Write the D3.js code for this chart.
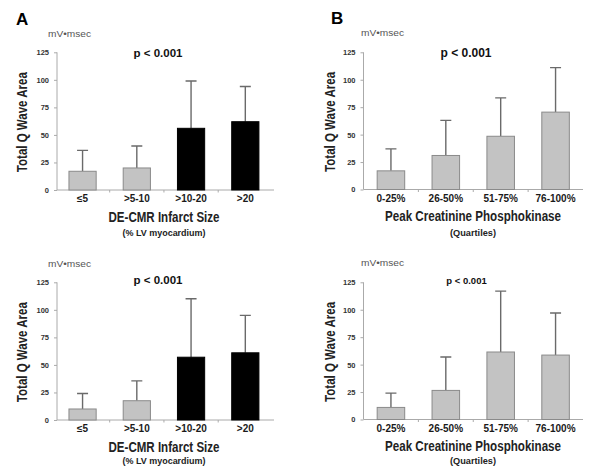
<!DOCTYPE html>
<html><head><meta charset="utf-8">
<script src="https://cdn.jsdelivr.net/npm/d3@7"></script>
<style>html,body{margin:0;padding:0;background:#fff}svg{display:block}text{font-family:"Liberation Sans",Arial,sans-serif}</style>
</head><body><svg id="c" width="600" height="473"></svg>
<script>
// ---- data ----
const infarctCats = ["≤5", ">5-10", ">10-20", ">20"];
const ckCats = ["0-25%", "26-50%", "51-75%", "76-100%"];
const yTicks = [0, 25, 50, 75, 100, 125];

const aTopMean  = [17, 20, 56, 62];
const aTopUpper = [36, 40, 99, 94];
const aBotMean  = [10, 17.5, 57, 61];
const aBotUpper = [24, 35.5, 110, 95];

const bTopMean  = [17, 31, 48.5, 70.5];
const bTopUpper = [37, 63, 83.5, 111];
const bBotMean  = [11, 26.5, 61.5, 58.7];
const bBotUpper = [24, 57, 117, 97];

const infarctGroup = ["low", "low", "high", "high"];
const ckGroup = ["low", "low", "low", "low"];

const svg = d3.select("#c");
const fillFor = {low: "#c3c3c3", high: "#000"};
const strokeFor = {low: "#8a8a8a", high: "#000"};

function panel(o) {
  const g = svg.append("g").attr("transform", `translate(${o.dx},${o.dy})`);
  const x = d3.scaleBand().domain(o.cats).range([o.x0, o.x1])
    .paddingInner(0.48).paddingOuter(0.24).align(o.align);
  const y = d3.scaleLinear().domain([0, 125]).range([o.y0, 52.3]);
  const data = o.cats.map((c, i) => ({c, m: o.mean[i], u: o.upper[i], grp: o.grp[i]}));

  // y axis
  const ya = g.append("g").attr("transform", `translate(${o.x0},0)`)
    .call(d3.axisLeft(y).tickValues(yTicks).tickSize(3).tickPadding(5).tickFormat(d3.format("d")));
  ya.select(".domain").attr("stroke", "#aaa").attr("d", `M0,${o.y0}V${y(125)}`);
  ya.selectAll(".tick line").attr("stroke", "#aaa");
  ya.selectAll(".tick text").attr("font-size", 7.5).attr("font-weight", "bold").attr("fill", "#333")
    .attr("font-family", "Liberation Sans, Arial, sans-serif");

  // x axis
  const xa = g.append("g").attr("transform", `translate(0,${o.y0})`)
    .call(d3.axisBottom(x).tickSize(0).tickPadding(5));
  xa.select(".domain").attr("stroke", "#aaa").attr("d", `M${o.x0},0H${o.x1}`);
  xa.selectAll(".tick text").attr("font-size", 10).attr("font-weight", "bold").attr("fill", "#1a1a1a")
    .attr("font-family", "Liberation Sans, Arial, sans-serif");
  // small ticks between categories
  const mids = o.cats.slice(1).map((c, i) => (x(o.cats[i]) + x.bandwidth() + x(c)) / 2);
  xa.selectAll(".sep").data(mids).join("line").attr("class", "sep")
    .attr("x1", d => d).attr("x2", d => d).attr("y1", 0).attr("y2", 2.5).attr("stroke", "#aaa");

  // error bars
  const cap = 5.5;
  g.selectAll(".err").data(data).join("path").attr("class", "err")
    .attr("d", d => {
      const cx = x(d.c) + x.bandwidth() / 2;
      return `M${cx},${y(d.m)}V${y(d.u)}M${cx - cap},${y(d.u)}H${cx + cap}`;
    })
    .attr("stroke", "#6a6a6a").attr("stroke-width", 1.4).attr("fill", "none");

  // bars
  g.selectAll(".bar").data(data).join("rect").attr("class", "bar")
    .attr("x", d => x(d.c) + 0.5).attr("width", x.bandwidth() - 1)
    .attr("y", d => y(d.m)).attr("height", d => y(0) - y(d.m))
    .attr("fill", d => fillFor[d.grp]).attr("stroke", d => strokeFor[d.grp]).attr("stroke-width", 1);

  // unit label
  g.append("text").attr("x", o.unitX).attr("y", o.unitY).text("mV•msec")
    .attr("font-size", 9.5).attr("fill", "#555").attr("textLength", 43).attr("lengthAdjust", "spacingAndGlyphs");

  // p value
  g.append("text").attr("x", o.pX).attr("y", o.pY).attr("text-anchor", "middle").text("p < 0.001")
    .attr("font-size", o.pSize).attr("font-weight", "bold").attr("fill", "#111");

  // y title
  g.append("text").attr("transform", `translate(${o.yTitleX},${(y(0) + y(125)) / 2 + 1}) rotate(-90)`)
    .attr("text-anchor", "middle").text("Total Q Wave Area")
    .attr("font-size", 14).attr("font-weight", "bold").attr("fill", "#222")
    .attr("textLength", 100).attr("lengthAdjust", "spacingAndGlyphs");

  // x titles
  g.append("text").attr("x", o.titleX).attr("y", o.y0 + 31.5).attr("text-anchor", "middle").text(o.title)
    .attr("font-size", 14).attr("font-weight", "bold").attr("fill", "#222")
    .attr("textLength", o.titleLen).attr("lengthAdjust", "spacingAndGlyphs");
  g.append("text").attr("x", o.titleX).attr("y", o.y0 + o.subOff).attr("text-anchor", "middle").text(o.sub)
    .attr("font-size", 9.5).attr("font-weight", "bold").attr("fill", "#222")
    .attr("textLength", o.subLen).attr("lengthAdjust", "spacingAndGlyphs");
}

// panel letters
svg.append("text").attr("x", 16).attr("y", 25).text("A").attr("font-size", 17).attr("font-weight", "bold");
svg.append("text").attr("x", 331).attr("y", 23.5).text("B").attr("font-size", 17).attr("font-weight", "bold");

const aCommon = {cats: infarctCats, grp: infarctGroup, x0: 57, x1: 274, align: 0.44, y0: 190,
  unitX: 48, pX: 158, yTitleX: 27, titleX: 164, title: "DE-CMR Infarct Size", titleLen: 111,
  sub: "(% LV myocardium)", subLen: 83};
const bCommon = {cats: ckCats, grp: ckGroup, x0: 363.5, x1: 583, align: 0.5, y0: 189.5,
  unitX: 361, titleX: 473, yTitleX: 335, title: "Peak Creatinine Phosphokinase", titleLen: 176,
  sub: "(Quartiles)", subLen: 46};

panel(Object.assign({}, aCommon, {dx: 0, dy: 0, mean: aTopMean, upper: aTopUpper, unitY: 36.5, pY: 57, pSize: 11.5, subOff: 46}));
panel(Object.assign({}, aCommon, {dx: 0, dy: 230, mean: aBotMean, upper: aBotUpper, unitY: 36.5, pY: 54, pSize: 11.5, subOff: 44}));
panel(Object.assign({}, bCommon, {dx: 0, dy: 0, mean: bTopMean, upper: bTopUpper, unitY: 36, pX: 466, pY: 57, pSize: 12, subOff: 46}));
panel(Object.assign({}, bCommon, {dx: 0, dy: 230, mean: bBotMean, upper: bBotUpper, unitY: 36, pX: 466.5, pY: 54, pSize: 9.5, subOff: 44}));
</script></body></html>
